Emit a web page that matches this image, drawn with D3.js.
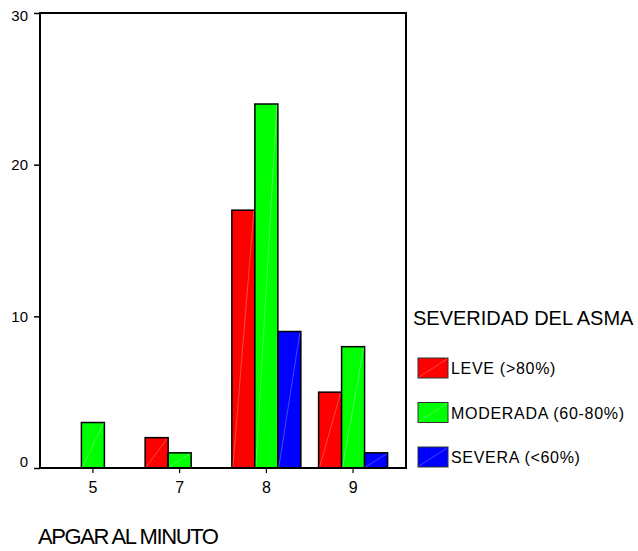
<!DOCTYPE html>
<html>
<head>
<meta charset="utf-8">
<script src="https://cdn.jsdelivr.net/npm/d3@7/dist/d3.min.js"></script>
<style>
  html, body { margin: 0; padding: 0; background: #fff; }
  svg { display: block; font-family: "Liberation Sans", Arial, sans-serif; }
</style>
</head>
<body>
<svg id="chart" width="638" height="551"></svg>
<script>
// Apgar score at one minute, counts by asthma severity
const categories = ["5", "7", "8", "9"];
const seriesNames = ["LEVE (>80%)", "MODERADA (60-80%)", "SEVERA (<60%)"];
const leve     = [0, 2, 17, 5];
const moderada = [3, 1, 24, 8];
const severa   = [0, 0, 9, 1];
const seriesValues = [leve, moderada, severa];
const seriesColors = ["#ff0000", "#00ff00", "#0000ff"];
const yTicks = [0, 10, 20, 30];

const svg = d3.select("#chart");
const plot = { left: 40, top: 13, right: 406, bottom: 468 };

const x = d3.scaleBand()
  .domain(categories)
  .range([plot.left, plot.right])
  .paddingInner(0)
  .paddingOuter(0.11);

const barW = 23;
const sub = d3.scaleBand()
  .domain(d3.range(seriesNames.length))
  .range([-barW * 1.5, barW * 1.5]);

const y = d3.scaleLinear().domain([0, 30]).range([plot.bottom, plot.top]);

// bars
const rows = [];
categories.forEach((c, i) => {
  seriesValues.forEach((vals, s) => {
    if (vals[i] > 0) rows.push({ c, s, v: vals[i] });
  });
});

const bars = svg.append("g").selectAll("g").data(rows).join("g");
bars.append("rect")
  .attr("x", d => x(d.c) + x.bandwidth() / 2 + sub(d.s))
  .attr("y", d => y(d.v))
  .attr("width", sub.bandwidth())
  .attr("height", d => y(0) - y(d.v))
  .attr("fill", d => seriesColors[d.s])
  .attr("stroke", "#000")
  .attr("stroke-width", 1.5);
// faint diagonal sheen across each bar
bars.append("line")
  .attr("x1", d => x(d.c) + x.bandwidth() / 2 + sub(d.s) + 1)
  .attr("y1", y(0) - 1)
  .attr("x2", d => x(d.c) + x.bandwidth() / 2 + sub(d.s) + sub.bandwidth() - 1)
  .attr("y2", d => y(d.v) + 1)
  .attr("stroke", "#fff")
  .attr("stroke-opacity", 0.35)
  .attr("stroke-width", 0.8);

// frame
svg.append("rect")
  .attr("x", plot.left).attr("y", plot.top)
  .attr("width", plot.right - plot.left).attr("height", plot.bottom - plot.top)
  .attr("fill", "none").attr("stroke", "#000").attr("stroke-width", 2);

// y axis; end labels are kept inside the frame's height
const yAxis = svg.append("g")
  .attr("transform", `translate(${plot.left},0)`)
  .attr("font-size", 15)
  .call(d3.axisLeft(y).tickValues(yTicks).tickSize(6).tickPadding(6));
yAxis.select(".domain").remove();
yAxis.selectAll("line").attr("stroke", "#000").attr("stroke-width", 1.5);
yAxis.selectAll("text")
  .attr("font-family", "Liberation Sans, Arial, sans-serif")
  .attr("font-size", 15).attr("fill", "#000")
  .attr("dy", "0.35em")
  .attr("y", d => {
    const p = y(d);
    return Math.min(Math.max(p, plot.top + 2.5), plot.bottom - 6.5) - p;
  });

// x axis
const xAxis = svg.append("g")
  .attr("transform", `translate(0,${plot.bottom})`)
  .call(d3.axisBottom(x).tickSize(5).tickPadding(9));
xAxis.select(".domain").remove();
xAxis.selectAll("line").attr("stroke", "#000").attr("stroke-width", 1.2);
xAxis.selectAll("text")
  .attr("font-family", "Liberation Sans, Arial, sans-serif")
  .attr("font-size", 16).attr("fill", "#000");

// x title
svg.append("text")
  .attr("x", 38).attr("y", 544)
  .attr("font-size", 22).attr("letter-spacing", -1.4)
  .attr("fill", "#000")
  .text("APGAR AL MINUTO");

// legend
svg.append("text")
  .attr("x", 413).attr("y", 325)
  .attr("font-size", 20).attr("fill", "#000")
  .text("SEVERIDAD DEL ASMA");

const leg = svg.append("g").selectAll("g").data(seriesNames).join("g")
  .attr("transform", (d, i) => `translate(418,${358 + i * 44.5})`);
leg.append("rect")
  .attr("width", 30).attr("height", 20)
  .attr("fill", (d, i) => seriesColors[i])
  .attr("stroke", "#333").attr("stroke-width", 1);
leg.append("line")
  .attr("x1", 1).attr("y1", 19).attr("x2", 29).attr("y2", 1)
  .attr("stroke", "#fff").attr("stroke-opacity", 0.35).attr("stroke-width", 0.8);
leg.append("text")
  .attr("x", 33).attr("y", 16)
  .attr("font-size", 16).attr("letter-spacing", 0.7).attr("fill", "#000")
  .text(d => d);
</script>
</body>
</html>
